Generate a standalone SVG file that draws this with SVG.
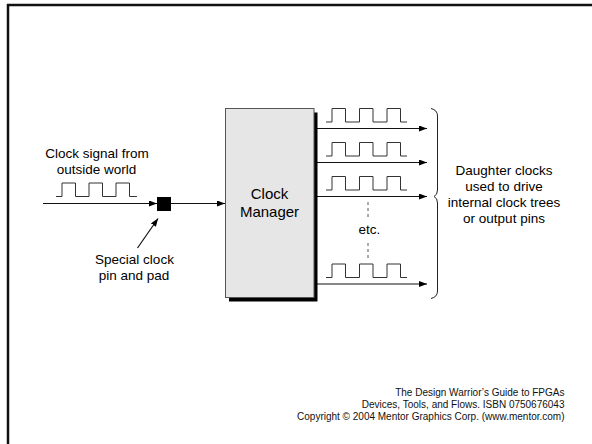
<svg xmlns="http://www.w3.org/2000/svg" width="592" height="444" viewBox="0 0 592 444">
  <style>
    text { font-family: "Liberation Sans", Arial, sans-serif; fill: #000; }
    .lbl { font-size: 13.5px; text-anchor: middle; }
    .big { font-size: 15px; text-anchor: middle; }
    .foot { font-size: 10px; text-anchor: end; fill: #111; }
    .wire { stroke: #111; stroke-width: 1.2; fill: none; }
    .wave { stroke: #333; stroke-width: 1; fill: none; }
    .dash { stroke: #555; stroke-width: 1; stroke-dasharray: 3 3; fill: none; }
  </style>
  <defs>
    <marker id="ah" markerUnits="userSpaceOnUse" markerWidth="8" markerHeight="6" refX="8" refY="3" orient="auto">
      <path d="M0,0 L8,3 L0,6 z" fill="#000"/>
    </marker>
    <path id="wv" d="M0,0 H6 V-13.5 H19.5 V0 H33.5 V-13.5 H47 V0 H61 V-13.5 H74.5 V0 H81" class="wave"/>
  </defs>

  <rect width="592" height="444" fill="#fff"/>
  <g id="frame">
    <line x1="7" y1="5" x2="592" y2="5" stroke="#111" stroke-width="2.5"/>
    <line x1="8" y1="4" x2="8" y2="444" stroke="#111" stroke-width="2.5"/>
  </g>

  <g id="connectors">
    <line class="wire" x1="43" y1="203.5" x2="157" y2="203.5" marker-end="url(#ah)"/>
    <line class="wire" x1="171" y1="203.5" x2="225" y2="203.5" marker-end="url(#ah)"/>
    <line class="wire" x1="137.5" y1="248" x2="158" y2="218.5" marker-end="url(#ah)"/>
    <line class="wire" x1="314" y1="128.5" x2="427" y2="128.5" marker-end="url(#ah)"/>
    <line class="wire" x1="314" y1="162.5" x2="427" y2="162.5" marker-end="url(#ah)"/>
    <line class="wire" x1="314" y1="196.5" x2="427" y2="196.5" marker-end="url(#ah)"/>
    <line class="wire" x1="314" y1="284" x2="427" y2="284" marker-end="url(#ah)"/>
  </g>

  <g id="input-wave">
    <path d="M56,196.5 H62 V183 H75.5 V196.5 H89 V183 H102.5 V196.5 H116 V183 H129.5 V196.5 H137" class="wave"/>
  </g>

  <g id="label-input">
    <text class="lbl" x="97" y="157.5">Clock signal from</text>
    <text class="lbl" x="96.5" y="173.5">outside world</text>
  </g>

  <g id="pad">
    <rect x="157" y="197" width="14" height="14" fill="#000"/>
  </g>

  <g id="label-pad">
    <text class="lbl" x="134.5" y="264">Special clock</text>
    <text class="lbl" x="134" y="279.5">pin and pad</text>
  </g>

  <g id="clock-manager">
    <rect x="229" y="112.5" width="88.5" height="189" fill="#000"/>
    <rect x="225.5" y="108.5" width="88.5" height="189" fill="#e6e6e6" stroke="#555" stroke-width="1"/>
    <text class="big" x="269.5" y="198.5">Clock</text>
    <text class="big" x="269.5" y="217">Manager</text>
  </g>

  <g id="output-waves">
    <use href="#wv" x="326" y="122"/>
    <use href="#wv" x="326" y="156"/>
    <use href="#wv" x="326" y="190"/>
    <use href="#wv" x="326" y="277.5"/>
  </g>

  <g id="etc">
    <line class="dash" x1="368" y1="202" x2="368" y2="218"/>
    <text class="lbl" x="369.5" y="234">etc.</text>
    <line class="dash" x1="368" y1="243" x2="368" y2="259"/>
  </g>

  <g id="brace">
    <path d="M431,108.5 Q437.5,110 437.5,116 V190 Q437.5,195 434,196.5 Q437.5,198 437.5,203 V291 Q437.5,297 431,298.5" fill="none" stroke="#222" stroke-width="1"/>
  </g>

  <g id="label-daughter">
    <text class="lbl" x="504" y="175">Daughter clocks</text>
    <text class="lbl" x="504" y="191">used to drive</text>
    <text class="lbl" x="504" y="207">internal clock trees</text>
    <text class="lbl" x="504" y="223">or output pins</text>
  </g>

  <g id="footer">
    <text class="foot" x="564.5" y="396">The Design Warrior’s Guide to FPGAs</text>
    <text class="foot" x="564.5" y="407.5">Devices, Tools, and Flows. ISBN 0750676043</text>
    <text class="foot" x="564.5" y="419.5">Copyright © 2004 Mentor Graphics Corp. (www.mentor.com)</text>
  </g>
</svg>
